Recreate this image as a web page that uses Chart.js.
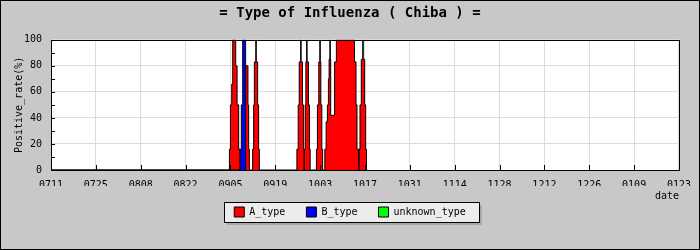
<!DOCTYPE html>
<html>
<head>
<meta charset="utf-8">
<script src="https://cdn.jsdelivr.net/npm/chart.js@4.4.1/dist/chart.umd.min.js"></script>
<style>
  html, body { margin: 0; padding: 0; background: #c8c8c8; }
  canvas { display: block; }
</style>
</head>
<body>
<canvas id="chartInfluenza" width="700" height="250"></canvas>
<script>
var tituloGrafico = '= Type of Influenza ( Chiba ) =',
    etiquetasFecha = ['0711', '0725', '0808', '0822', '0905', '0919', '1003', '1017', '1031', '1114', '1128', '1212', '1226', '0109', '0123'],
    nombresSerie = ['A_type', 'B_type', 'unknown_type'],
    coloresSerie = ['#ff0000', '#0000ff', '#00ff00'],
    fuente = "'DejaVu Sans Mono', monospace";

// dias desde 0711 (con fraccion) y tasa positiva (%)
var diasA = [0,
    55.69, 56.0, 56.41, 56.72, 57.65, 58.08, 58.58, 59.02,
    60.0, 60.16, 60.47, 61.47, 61.69, 61.91,
    62.94, 63.25, 63.47, 63.93, 64.06, 64.5, 64.8, 65.02,
    76.75, 77.16, 77.47, 77.93, 78.06, 78.49, 78.8, 78.99,
    79.08, 79.33, 79.55, 79.8, 79.92, 80.36, 80.67, 80.89,
    82.85, 83.16, 83.59, 83.91, 84.03, 84.22, 84.53, 84.78,
    85.46, 85.87, 86.27, 86.58, 86.8, 87.05, 87.17, 87.3, 88.51, 89.07, 94.73, 95.2, 95.51, 96.04,
    96.13, 96.44, 96.85, 97.31, 97.44, 97.91, 98.22, 98.47];
var tasaA = [0,
    16, 50, 66, 100, 80, 50, 16, 0,
    16, 50, 80, 50, 16, 0,
    16, 50, 83, 100, 83, 50, 16, 0,
    16, 50, 83, 100, 83, 50, 16, 0,
    16, 50, 83, 100, 83, 50, 16, 0,
    16, 50, 83, 100, 83, 50, 16, 0,
    16, 37, 50, 70, 85, 100, 85, 42, 83, 100, 83, 50, 16, 0,
    16, 50, 85, 100, 85, 50, 16, 0];
var diasB = [0, 59.05, 59.4, 59.83, 60.76];
var tasaB = [0, 16, 50, 100, 0];
var diasDesconocido = [];
var tasaDesconocido = [];

function armarPuntos(dias, tasas) {
    return dias.map(function (d, i) {
        return { x: d, y: tasas[i] };
    });
}

function armarSerie(indice, dias, tasas, orden) {
    return {
        label: nombresSerie[indice],
        data: armarPuntos(dias, tasas),
        stepped: true,
        fill: 'origin',
        backgroundColor: coloresSerie[indice],
        borderColor: '#000000',
        borderWidth: 1,
        pointRadius: 0,
        order: orden
    };
}

// fondo gris, area blanca y caja de la leyenda
var pluginMarco = {
    id: 'marco',
    beforeDraw: function (chart) {
        var ctx = chart.ctx, area = chart.chartArea;
        ctx.save();
        ctx.fillStyle = '#c8c8c8';
        ctx.fillRect(0, 0, chart.width, chart.height);
        ctx.fillStyle = '#ffffff';
        ctx.fillRect(area.left, area.top, area.right - area.left, area.bottom - area.top);

        var cajas = chart.legend && chart.legend.legendHitBoxes;
        if (cajas && cajas.length) {
            var primera = cajas[0], ultima = cajas[cajas.length - 1];
            var x0 = Math.round(primera.left - 10), x1 = Math.round(ultima.left + ultima.width + 13);
            var y0 = Math.round(primera.top - 5), y1 = Math.round(primera.top + primera.height + 5);
            ctx.fillStyle = '#a9a9a9';
            ctx.fillRect(x0 + 3, y0 + 3, x1 - x0, y1 - y0);
            ctx.fillStyle = '#ececec';
            ctx.fillRect(x0, y0, x1 - x0, y1 - y0);
            ctx.strokeStyle = '#000000';
            ctx.lineWidth = 1;
            ctx.strokeRect(x0 + 0.5, y0 + 0.5, x1 - x0, y1 - y0);
        }
        ctx.restore();
    },
    afterDatasetsDraw: function (chart) {
        var ctx = chart.ctx, area = chart.chartArea;
        var ejeX = chart.scales.x, ejeY = chart.scales.y;
        ctx.save();
        ctx.strokeStyle = '#000000';
        ctx.lineWidth = 1;
        ctx.beginPath();
        // marcas interiores del eje x
        ejeX.ticks.forEach(function (t) {
            var px = Math.round(ejeX.getPixelForValue(t.value)) + 0.5;
            ctx.moveTo(px, area.bottom);
            ctx.lineTo(px, area.bottom - 5);
        });
        // marcas interiores del eje y cada 10
        for (var v = 0; v <= 100; v += 10) {
            var py = Math.round(ejeY.getPixelForValue(v)) + 0.5;
            ctx.moveTo(area.left, py);
            ctx.lineTo(area.left + 4, py);
        }
        ctx.stroke();
        ctx.strokeRect(Math.round(area.left) + 0.5, Math.round(area.top) + 0.5,
            Math.round(area.right - area.left), Math.round(area.bottom - area.top));
        ctx.restore();
    },
    afterDraw: function (chart) {
        var ctx = chart.ctx;
        ctx.save();
        ctx.strokeStyle = '#000000';
        ctx.lineWidth = 1;
        ctx.strokeRect(0.5, 0.5, chart.width - 1, chart.height - 1);
        ctx.restore();
    }
};

var ctxInfluenza = document.getElementById('chartInfluenza');

var graficoInfluenza = new Chart(ctxInfluenza, {
    type: 'line',
    data: {
        datasets: [
            armarSerie(0, diasA, tasaA, 2),
            armarSerie(1, diasB, tasaB, 1),
            armarSerie(2, diasDesconocido, tasaDesconocido, 3)
        ]
    },
    options: {
        responsive: false,
        devicePixelRatio: 1,
        animation: false,
        events: [],
        layout: {
            padding: { left: 0, right: 0, top: 0, bottom: 23 }
        },
        plugins: {
            title: {
                display: true,
                text: tituloGrafico,
                color: '#000000',
                font: { family: fuente, size: 14, weight: 'bold' },
                padding: { top: 5, bottom: 18 }
            },
            legend: {
                display: true,
                position: 'bottom',
                labels: {
                    color: '#000000',
                    font: { family: fuente, size: 10 },
                    boxWidth: 10,
                    boxHeight: 10,
                    padding: 21,
                    sort: function (a, b) { return a.datasetIndex - b.datasetIndex; }
                }
            },
            tooltip: { enabled: false }
        },
        scales: {
            x: {
                type: 'linear',
                min: 0,
                max: 196,
                afterFit: function (eje) { eje.height = 16; },
                ticks: {
                    stepSize: 14,
                    maxTicksLimit: 20,
                    autoSkip: false,
                    maxRotation: 0,
                    padding: 9,
                    color: '#000000',
                    font: { family: fuente, size: 10 },
                    callback: function (valor) {
                        return etiquetasFecha[Math.round(valor / 14)];
                    }
                },
                grid: { color: '#dcdcdc', drawTicks: false },
                border: { display: false },
                title: {
                    display: true,
                    text: 'date',
                    align: 'end',
                    color: '#000000',
                    font: { family: fuente, size: 10 },
                    padding: { top: 0, bottom: -16 }
                }
            },
            y: {
                min: 0,
                max: 100,
                afterFit: function (eje) { eje.width = 51; },
                ticks: {
                    stepSize: 20,
                    padding: 9,
                    color: '#000000',
                    font: { family: fuente, size: 10 }
                },
                grid: { color: '#dcdcdc', drawTicks: false },
                border: { display: false },
                title: {
                    display: true,
                    text: 'Positive_rate(%)',
                    color: '#000000',
                    font: { family: fuente, size: 10 },
                    padding: { top: 13, bottom: 0 }
                }
            },
            // margen derecho del area de trazado
            derecha: {
                position: 'right',
                min: 0,
                max: 100,
                afterFit: function (eje) { eje.width = 19; },
                ticks: { display: false },
                grid: { display: false },
                border: { display: false }
            }
        }
    },
    plugins: [pluginMarco]
});
</script>
</body>
</html>
